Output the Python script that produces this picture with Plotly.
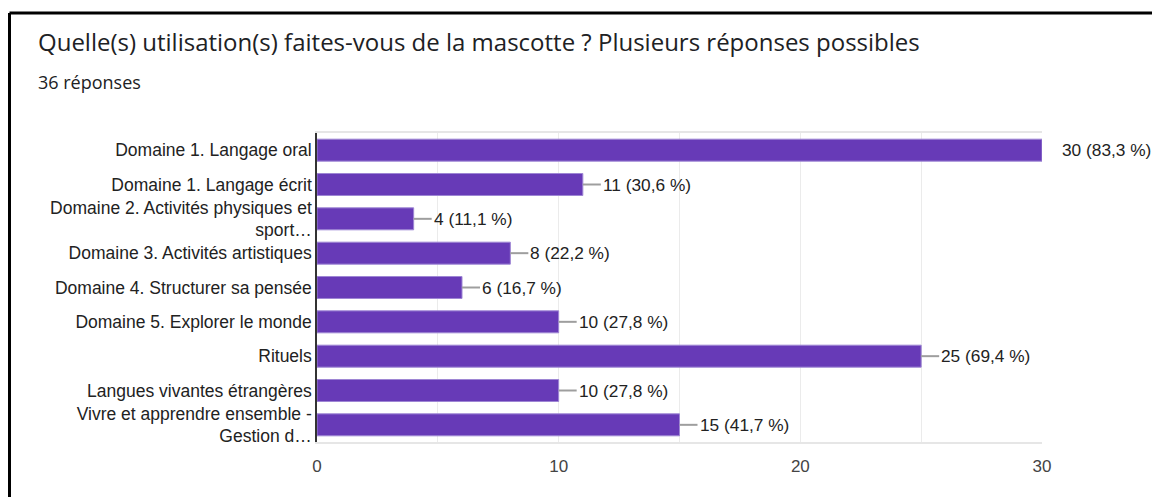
import plotly.graph_objects as go

categories = [
    "Domaine 1. Langage oral",
    "Domaine 1. Langage écrit",
    "Domaine 2. Activités physiques et<br>sport…",
    "Domaine 3. Activités artistiques",
    "Domaine 4. Structurer sa pensée",
    "Domaine 5. Explorer le monde",
    "Rituels",
    "Langues vivantes étrangères",
    "Vivre et apprendre ensemble -<br>Gestion d…",
]
counts = [30, 11, 4, 8, 6, 10, 25, 10, 15]
percent_labels = ["83,3", "30,6", "11,1", "22,2", "16,7", "27,8", "69,4", "27,8", "41,7"]
x_ticks = [0, 10, 20, 30]
title = "Quelle(s) utilisation(s) faites-vous de la mascotte ? Plusieurs réponses possibles"
subtitle = "36 réponses"

W, H = 1152, 497
L, R, T, B = 317, 1042, 133, 442
PW, PH = R - L, B - T


def px(x):
    return (x - L) / PW


def py(y):
    return 1 - (y - T) / PH


xmax = 30
fig = go.Figure()
fig.add_trace(go.Bar(
    x=counts, y=list(range(len(categories))), orientation="h",
    marker=dict(color="#673ab7", line=dict(color="#9e86d4", width=1)),
    width=0.64, hoverinfo="skip",
))

shapes = []
annotations = []
for i, (v, p) in enumerate(zip(counts, percent_labels)):
    if v < xmax:
        shapes.append(dict(type="line", xref="x", yref="y", xsizemode="pixel",
                           xanchor=v, x0=0, x1=18, y0=i, y1=i,
                           line=dict(color="#9e9e9e", width=2)))
    annotations.append(dict(x=v, y=i, xref="x", yref="y", text=f"{v} ({p} %)",
                            showarrow=False, xanchor="left", yanchor="middle",
                            xshift=18, font=dict(family="Liberation Sans, Arial", size=17.3, color="#222")))

# title & subtitle
annotations.append(dict(x=px(36), y=py(41), xref="paper", yref="paper", text=title,
                        showarrow=False, xanchor="left", yanchor="middle",
                        font=dict(family="Open Sans", size=24, color="#202124")))
annotations.append(dict(x=px(36), y=py(82), xref="paper", yref="paper", text=subtitle,
                        showarrow=False, xanchor="left", yanchor="middle",
                        font=dict(family="Open Sans", size=18, color="#202124")))

# frame border of the screenshot
shapes.append(dict(type="line", xref="paper", yref="paper", x0=px(9.5), x1=px(1170),
                   y0=py(13), y1=py(13), line=dict(color="black", width=3), layer="above"))
shapes.append(dict(type="line", xref="paper", yref="paper", x0=px(9.5), x1=px(9.5),
                   y0=py(13), y1=py(520), line=dict(color="black", width=3), layer="above"))

fig.update_layout(
    width=W, height=H,
    margin=dict(l=L, r=W - R, t=T, b=H - B, autoexpand=False),
    paper_bgcolor="white", plot_bgcolor="white",
    showlegend=False, bargap=0.36,
    shapes=shapes, annotations=annotations,
    font=dict(family="Liberation Sans, Arial", size=17, color="#222"),
    xaxis=dict(range=[0, xmax], tickvals=x_ticks, ticktext=[str(t) for t in x_ticks],
               showgrid=True, gridcolor="#ebebeb", gridwidth=1,
               minor=dict(dtick=5, showgrid=True, gridcolor="#ebebeb", gridwidth=1),
               showline=True, linecolor="#e6e6e6", linewidth=2, mirror=True,
               zeroline=False, ticks="outside", ticklen=8, tickcolor="rgba(0,0,0,0)",
               tickfont=dict(size=17, color="#444"), automargin=False, fixedrange=True),
    yaxis=dict(range=[len(categories) - 0.5, -0.5], tickvals=list(range(len(categories))),
               ticktext=categories, showgrid=False, zeroline=False,
               showline=True, linecolor="#333", linewidth=1.5,
               ticks="", ticklabelstandoff=0,
               tickfont=dict(size=17.5, color="#222"), automargin=False, fixedrange=True),
)

fig.write_html(
    "out.html",
    config={"displayModeBar": False},
    post_script="document.body.style.margin='0';document.body.style.overflow='hidden';",
)
